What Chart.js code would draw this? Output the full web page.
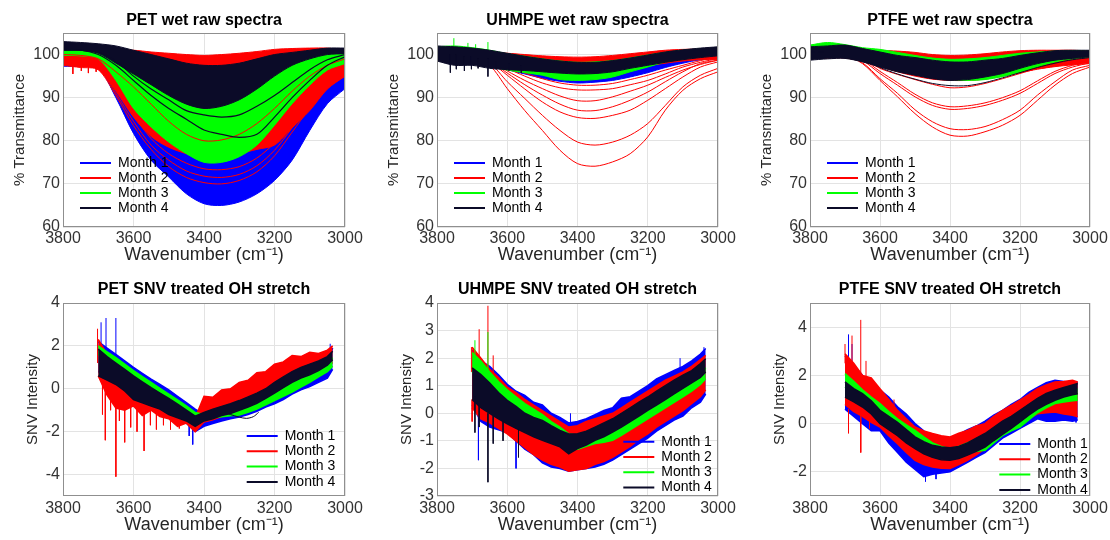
<!DOCTYPE html>
<html>
<head>
<meta charset="utf-8">
<script src="https://cdn.jsdelivr.net/npm/chart.js@4.4.1/dist/chart.umd.min.js"></script>
<style>
  html, body { margin: 0; padding: 0; background: #fff; width: 1110px; height: 540px; overflow: hidden; }
  body { position: relative; }
  canvas { position: absolute; }
</style>
</head>
<body>
<canvas id="c1" width="408" height="270" style="left:0px;top:0px"></canvas>
<canvas id="c2" width="407" height="270" style="left:374px;top:0px"></canvas>
<canvas id="c3" width="406" height="270" style="left:747px;top:0px"></canvas>
<canvas id="c4" width="408" height="270" style="left:0px;top:270px"></canvas>
<canvas id="c5" width="407" height="270" style="left:374px;top:270px"></canvas>
<canvas id="c6" width="406" height="270" style="left:747px;top:270px"></canvas>
<script>
// ---- data ----
const monthNames = ['Month 1', 'Month 2', 'Month 3', 'Month 4'];
const xTicks = [3800, 3600, 3400, 3200, 3000];
const rawTicksY = [60, 70, 80, 90, 100];
const petSnvTicksY = [-4, -2, 0, 2, 4];
const uhmpeSnvTicksY = [-3, -2, -1, 0, 1, 2, 3, 4];
const ptfeSnvTicksY = [-2, 0, 2, 4];

const rawWavenumbers = [3800, 3750, 3700, 3650, 3600, 3550, 3500, 3450, 3400, 3350, 3300, 3250, 3200, 3150, 3100, 3050, 3000];

// PET raw (% transmittance), band edges per month
const petRawM1Lo = [97.3, 97.2, 97.0, 90.0, 81.7, 75.5, 71.6, 67.7, 65.4, 65.0, 65.8, 67.7, 70.8, 75.5, 82.4, 88.6, 92.1];
const petRawM1Hi = [99.0, 99.0, 98.5, 96.0, 92.0, 88.0, 84.5, 81.5, 80.0, 80.0, 80.5, 82.0, 85.0, 88.5, 92.0, 94.5, 96.0];
const petRawM2Lo = [97.5, 97.0, 96.5, 91.5, 85.5, 81.0, 78.5, 77.0, 76.0, 76.0, 77.0, 78.0, 79.0, 83.0, 87.0, 92.0, 95.0];
const petRawM2Hi = [101.5, 101.3, 101.0, 101.0, 101.0, 100.6, 100.3, 100.0, 99.8, 100.0, 100.3, 100.7, 101.2, 101.4, 101.5, 101.5, 101.0];
const petRawM3Lo = [99.8, 99.7, 99.0, 94.0, 87.5, 83.2, 79.7, 77.0, 75.0, 75.0, 76.3, 79.0, 83.6, 88.6, 92.9, 96.4, 97.9];
const petRawM3Hi = [102.0, 101.8, 101.5, 100.5, 99.0, 97.0, 94.5, 92.5, 91.0, 91.0, 92.0, 94.0, 96.5, 98.5, 99.8, 100.3, 100.3];
const petRawM4Lo = [101.2, 101.0, 100.3, 98.0, 95.5, 93.0, 90.5, 88.5, 87.5, 88.0, 89.5, 92.0, 95.0, 97.5, 99.0, 100.0, 100.2];
const petRawM4Hi = [103.0, 102.8, 102.5, 102.0, 101.0, 100.0, 99.0, 98.0, 97.5, 97.5, 98.0, 99.0, 100.0, 100.5, 101.0, 101.5, 101.5];
const petRawRedA = [98.0, 97.8, 97.0, 92.0, 86.0, 80.5, 77.0, 74.8, 73.5, 73.3, 74.0, 76.0, 79.5, 84.5, 89.5, 93.5, 95.8];
const petRawRedB = [98.0, 97.5, 96.8, 91.0, 84.5, 79.0, 75.5, 73.0, 71.8, 71.5, 72.2, 74.2, 77.8, 83.0, 88.5, 92.8, 95.2];
const petRawRedC = [98.0, 97.5, 96.5, 90.5, 83.5, 78.0, 74.0, 71.5, 70.3, 70.0, 70.8, 72.8, 76.5, 82.0, 87.5, 92.2, 95.0];
const petRawRedTop = [100.0, 99.8, 99.0, 96.0, 92.5, 88.5, 84.5, 81.5, 80.0, 80.2, 81.5, 84.0, 87.5, 91.5, 95.0, 97.5, 99.0];
const petRawBlackA = [101.0, 101.0, 100.5, 98.5, 95.0, 92.0, 89.5, 87.0, 86.0, 85.5, 86.0, 88.0, 90.5, 93.5, 96.5, 98.8, 100.0];
const petRawBlackB = [101.0, 101.0, 100.0, 97.5, 94.0, 90.5, 87.5, 85.0, 82.5, 81.5, 80.8, 81.5, 85.5, 90.0, 94.0, 97.5, 99.5];
const petRawRedSpikes = [[3772, 98, 95.5], [3748, 98, 96.2], [3728, 98, 95.7], [3706, 97.5, 96.0]];

// UHMPE raw
const uhmpeRawM1Lo = [99.2, 99.0, 98.5, 97.8, 96.5, 95.5, 94.5, 93.8, 93.4, 93.6, 94.0, 94.8, 95.8, 97.0, 98.0, 98.8, 99.3];
const uhmpeRawM1Hi = [100.8, 100.8, 100.5, 100.2, 99.5, 98.8, 98.0, 97.5, 97.2, 97.3, 97.6, 98.2, 98.9, 99.5, 100.0, 100.3, 100.5];
const uhmpeRawM2Lo = [99.0, 98.8, 98.5, 98.0, 97.5, 97.0, 96.5, 96.0, 95.8, 96.0, 96.3, 96.8, 97.4, 98.0, 98.5, 98.8, 98.8];
const uhmpeRawM2Hi = [100.5, 100.5, 100.5, 100.5, 100.3, 100.0, 99.7, 99.5, 99.4, 99.5, 99.8, 100.2, 100.6, 101.0, 101.2, 101.2, 101.0];
const uhmpeRawM3Lo = [99.0, 98.8, 98.3, 97.3, 96.4, 95.8, 95.2, 94.2, 94.0, 94.2, 94.8, 96.0, 97.1, 98.3, 99.0, 99.6, 100.0];
const uhmpeRawM3Hi = [101.8, 102.0, 101.6, 101.0, 100.2, 99.6, 99.0, 98.5, 98.2, 98.3, 98.6, 99.2, 99.9, 100.5, 101.0, 101.3, 101.5];
const uhmpeRawM4Lo = [98.5, 97.5, 97.5, 96.8, 96.5, 96.3, 96.0, 95.7, 95.5, 95.6, 96.0, 96.8, 97.5, 98.2, 98.8, 99.3, 99.7];
const uhmpeRawM4Hi = [102.0, 101.8, 101.5, 101.0, 100.3, 99.6, 99.0, 98.5, 98.2, 98.2, 98.6, 99.2, 99.9, 100.6, 101.1, 101.5, 101.8];
const uhmpeRawRedA = [99.5, 99.5, 99.3, 97.5, 92.1, 87.0, 82.4, 77.8, 74.7, 74.1, 75.1, 77.0, 80.9, 87.1, 91.7, 94.4, 96.0];
const uhmpeRawRedB = [99.5, 99.5, 99.2, 98.0, 93.7, 89.8, 85.9, 82.4, 79.7, 79.0, 79.7, 81.3, 84.0, 88.2, 92.5, 95.2, 96.8];
const uhmpeRawRedC = [99.6, 99.6, 99.3, 98.3, 95.2, 92.0, 89.0, 86.7, 85.4, 85.2, 85.9, 87.1, 89.4, 92.1, 94.8, 97.1, 98.3];
const uhmpeRawRedD = [99.6, 99.6, 99.4, 98.5, 95.7, 93.0, 90.6, 88.5, 87.1, 87.0, 87.9, 89.4, 91.3, 93.7, 96.0, 97.9, 98.7];
const uhmpeRawRedE = [99.7, 99.7, 99.5, 98.8, 96.2, 94.0, 92.1, 90.4, 89.3, 89.3, 90.2, 91.5, 92.9, 94.7, 96.4, 97.7, 98.7];
const uhmpeRawRedF = [99.8, 99.8, 99.6, 99.0, 96.8, 95.0, 93.4, 92.3, 91.8, 91.8, 92.1, 93.0, 94.0, 95.5, 97.1, 98.2, 99.1];
const uhmpeRawRedG = [99.8, 99.8, 99.7, 99.2, 97.1, 95.7, 94.4, 93.4, 92.9, 92.9, 93.3, 94.2, 95.2, 96.4, 97.5, 98.6, 99.5];
const uhmpeRawBlackSpikes = [[3762, 100, 95.8], [3745, 100, 96.6], [3722, 99.5, 96.2], [3702, 99.5, 96.6], [3683, 99, 96.8], [3655, 99, 94.9], [3632, 98.5, 96.6], [3595, 98, 96.3], [3560, 97.5, 95.7]];
const uhmpeRawGreenSpikes = [[3752, 101.5, 103.8], [3712, 101.5, 102.7], [3690, 101.3, 102.4], [3655, 101, 102.9]];

// PTFE raw
const ptfeRawM1Lo = [99.5, 99.5, 99.4, 98.6, 97.5, 96.4, 95.5, 94.8, 94.5, 94.6, 95.0, 96.0, 97.0, 97.8, 98.5, 99.0, 99.3];
const ptfeRawM1Hi = [100.8, 101.0, 101.0, 100.6, 100.0, 99.3, 98.6, 98.0, 97.8, 97.9, 98.3, 99.0, 99.6, 100.0, 100.4, 100.5, 100.5];
const ptfeRawM2Lo = [99.0, 99.2, 99.2, 98.4, 97.2, 96.0, 95.0, 94.3, 94.0, 94.0, 94.3, 95.0, 95.8, 96.6, 97.2, 97.6, 97.9];
const ptfeRawM2Hi = [100.8, 101.0, 101.2, 101.2, 101.0, 100.8, 100.5, 100.0, 99.8, 99.9, 100.2, 100.6, 100.9, 101.0, 101.0, 101.0, 100.8];
const ptfeRawM3Lo = [100.3, 100.5, 100.5, 99.8, 98.5, 97.2, 96.0, 95.0, 94.2, 94.0, 94.2, 94.9, 96.0, 97.2, 98.3, 99.0, 99.5];
const ptfeRawM3Hi = [102.2, 102.8, 102.3, 101.6, 101.2, 100.5, 99.8, 99.2, 98.9, 99.0, 99.3, 99.8, 100.3, 100.6, 100.8, 100.9, 100.8];
const ptfeRawM4Lo = [98.7, 99.0, 99.1, 98.3, 97.1, 96.0, 95.2, 94.4, 94.0, 94.2, 94.8, 95.6, 96.8, 97.9, 98.7, 99.1, 99.5];
const ptfeRawM4Hi = [101.8, 102.0, 102.2, 101.4, 100.6, 99.8, 99.3, 98.7, 98.3, 98.3, 98.7, 99.1, 99.8, 100.4, 100.9, 101.0, 101.0];
const ptfeRawRedA = [100.0, 100.0, 99.8, 97.9, 94.0, 90.2, 86.3, 83.2, 81.3, 81.1, 82.1, 83.6, 85.9, 89.4, 92.9, 95.6, 97.1];
const ptfeRawRedB = [100.0, 100.0, 99.8, 98.1, 94.4, 91.0, 87.2, 84.4, 82.8, 82.6, 83.3, 84.9, 87.1, 90.6, 93.7, 96.4, 97.5];
const ptfeRawRedC = [100.0, 100.0, 99.9, 98.6, 95.6, 92.9, 90.2, 88.2, 87.3, 87.5, 88.2, 89.4, 91.0, 93.3, 95.6, 97.1, 98.1];
const ptfeRawRedD = [100.1, 100.1, 100.0, 98.9, 96.1, 93.5, 90.8, 88.8, 87.9, 88.1, 88.8, 90.0, 91.6, 93.9, 96.1, 97.5, 98.4];
const ptfeRawRedE = [100.0, 100.0, 100.0, 99.0, 96.8, 95.4, 94.2, 93.1, 92.3, 92.5, 93.3, 94.4, 95.6, 96.8, 97.9, 98.6, 99.1];
const ptfeRawBlackA = [100.5, 100.5, 100.2, 99.0, 97.0, 95.5, 94.3, 93.3, 92.8, 92.8, 93.5, 94.6, 95.8, 97.0, 98.0, 98.8, 99.3];

// SNV treated OH stretch
const snvWavenumbers = [3700, 3675, 3650, 3625, 3600, 3575, 3550, 3525, 3500, 3475, 3450, 3425, 3400, 3375, 3350, 3325, 3300, 3275, 3250, 3225, 3200, 3175, 3150, 3125, 3100, 3075, 3050, 3035];

const petSnvM1Lo = [0.8, 0.6, 0.4, 0.1, -0.2, -0.45, -0.7, -0.95, -1.2, -1.45, -1.6, -2.0, -1.75, -1.62, -1.5, -1.4, -1.32, -1.2, -1.05, -0.85, -0.7, -0.5, -0.25, -0.05, 0.1, 0.3, 0.5, 0.9];
const petSnvM1Hi = [2.2, 1.9, 1.6, 1.3, 1.0, 0.72, 0.45, 0.2, -0.05, -0.35, -0.65, -0.95, -1.2, -1.25, -1.15, -1.05, -0.95, -0.85, -0.7, -0.5, -0.3, -0.05, 0.2, 0.42, 0.65, 0.9, 1.2, 1.9];
const petSnvM2Lo = [0.6, -0.3, -0.9, -1.0, -0.8, -1.25, -1.0, -1.3, -1.4, -1.75, -1.6, -2.0, -1.55, -1.45, -1.3, -1.15, -1.0, -0.8, -0.6, -0.35, -0.1, 0.15, 0.4, 0.6, 0.8, 1.0, 1.15, 1.2];
const petSnvM2Hi = [2.3, 1.6, 1.2, 0.75, 0.35, 0.05, -0.2, -0.45, -0.7, -0.95, -1.2, -1.35, -0.35, -0.4, -0.05, 0.0, 0.3, 0.4, 0.75, 0.8, 1.15, 1.25, 1.55, 1.5, 1.7, 1.65, 1.8, 2.0];
const petSnvM3Lo = [1.6, 1.33, 1.05, 0.78, 0.45, 0.18, -0.08, -0.35, -0.6, -0.88, -1.15, -1.45, -1.42, -1.35, -1.3, -1.26, -1.22, -1.1, -0.95, -0.75, -0.55, -0.35, -0.15, 0.08, 0.3, 0.55, 0.8, 1.05];
const petSnvM3Hi = [2.0, 1.72, 1.45, 1.15, 0.85, 0.57, 0.3, 0.02, -0.25, -0.52, -0.8, -1.1, -1.2, -1.1, -0.98, -0.9, -0.8, -0.65, -0.5, -0.3, -0.1, 0.1, 0.3, 0.52, 0.75, 0.98, 1.2, 1.45];
const petSnvM4Lo = [0.6, 0.4, 0.2, -0.1, -0.5, -0.65, -0.8, -0.95, -1.2, -1.35, -1.5, -1.75, -1.5, -1.4, -1.25, -1.15, -1.0, -0.85, -0.68, -0.45, -0.2, 0.05, 0.3, 0.5, 0.65, 0.85, 1.1, 1.35];
const petSnvM4Hi = [1.85, 1.5, 1.2, 0.9, 0.6, 0.32, 0.05, -0.2, -0.45, -0.72, -1.0, -1.28, -1.1, -0.95, -0.82, -0.7, -0.55, -0.38, -0.2, 0.0, 0.3, 0.55, 0.8, 1.0, 1.15, 1.3, 1.5, 1.75];
const petSnvRedSpikes = [[3702, 1.2, 2.8], [3688, 1.0, -1.2], [3680, 0.8, -2.4], [3665, 0.2, -1.0], [3650, 0.3, -4.1], [3640, 0.0, -1.5], [3625, -0.1, -2.5], [3608, -0.3, -1.8], [3590, -0.4, -2.0], [3570, -0.5, -2.9], [3552, -0.7, -1.7], [3535, -0.8, -1.9], [3515, -0.9, -1.7], [3495, -1.1, -1.9], [3470, -1.3, -1.85]];
const petSnvBlueSpikes = [[3692, 1.8, 3.1], [3678, 1.6, 3.3], [3650, 1.4, 3.3], [3442, -1.4, -2.2], [3432, -1.5, -2.6], [3042, 1.5, 2.1]];
const petSnvBlackLoopX = [3350, 3325, 3300, 3280, 3260, 3245];
const petSnvBlackLoopY = [-1.05, -1.2, -1.32, -1.38, -1.3, -1.1];

const uhmpeSnvM1Lo = [0.3, -0.3, -0.5, -0.6, -0.7, -1.0, -1.3, -1.5, -1.8, -1.95, -2.0, -2.1, -2.05, -2.0, -1.95, -1.85, -1.7, -1.5, -1.3, -1.1, -0.9, -0.65, -0.45, -0.25, -0.1, 0.2, 0.4, 0.7];
const uhmpeSnvM1Hi = [2.3, 1.9, 1.7, 1.4, 1.05, 0.8, 0.65, 0.4, 0.3, 0.0, -0.15, -0.35, -0.3, -0.2, -0.05, 0.1, 0.2, 0.55, 0.6, 0.8, 1.0, 1.25, 1.4, 1.55, 1.7, 1.9, 2.15, 2.35];
const uhmpeSnvM2Lo = [0.2, -0.2, -0.35, -0.55, -0.75, -1.0, -1.25, -1.5, -1.7, -1.85, -1.95, -2.1, -2.05, -2.0, -1.85, -1.75, -1.6, -1.4, -1.2, -0.95, -0.75, -0.5, -0.3, -0.1, 0.1, 0.35, 0.6, 0.85];
const uhmpeSnvM2Hi = [2.4, 2.0, 1.6, 1.3, 0.95, 0.75, 0.5, 0.3, 0.1, -0.1, -0.3, -0.5, -0.45, -0.3, -0.2, -0.1, 0.0, 0.2, 0.4, 0.6, 0.8, 1.0, 1.2, 1.35, 1.5, 1.7, 1.95, 2.1];
const uhmpeSnvM3Lo = [1.5, 1.2, 0.9, 0.55, 0.25, 0.0, -0.2, -0.35, -0.55, -0.8, -1.0, -1.3, -1.3, -1.2, -1.1, -1.05, -0.98, -0.8, -0.6, -0.4, -0.2, 0.0, 0.2, 0.4, 0.6, 0.8, 1.05, 1.25];
const uhmpeSnvM3Hi = [2.2, 1.9, 1.5, 1.15, 0.85, 0.6, 0.35, 0.15, -0.05, -0.3, -0.5, -0.75, -0.8, -0.75, -0.7, -0.62, -0.55, -0.35, -0.15, 0.05, 0.25, 0.45, 0.65, 0.82, 1.0, 1.2, 1.45, 1.65];
const uhmpeSnvM4Lo = [0.5, 0.2, 0.0, -0.2, -0.38, -0.55, -0.7, -0.85, -0.98, -1.1, -1.22, -1.47, -1.28, -1.15, -0.98, -0.85, -0.68, -0.5, -0.3, -0.1, 0.11, 0.3, 0.5, 0.7, 0.9, 1.1, 1.3, 1.5];
const uhmpeSnvM4Hi = [1.65, 1.4, 1.1, 0.75, 0.47, 0.25, 0.0, -0.15, -0.26, -0.45, -0.62, -0.75, -0.74, -0.65, -0.5, -0.35, -0.2, 0.0, 0.2, 0.4, 0.59, 0.8, 1.0, 1.2, 1.38, 1.55, 1.8, 1.98];
const uhmpeSnvBlueSpikes = [[3682, 0.0, -1.7], [3575, -0.9, -2.0], [3420, -0.5, 0.0], [3108, 1.6, 2.0], [3040, 2.0, 2.4]];
const uhmpeSnvRedSpikes = [[3702, 1.5, 2.4], [3680, 1.5, 3.05], [3655, 1.2, 3.9], [3640, 1.0, 2.1], [3700, 0.5, -0.3]];
const uhmpeSnvGreenSpikes = [[3692, 1.6, 2.65], [3655, 1.2, 2.95]];
const uhmpeSnvBlackSpikes = [[3692, 0.6, -0.7], [3680, 0.3, -0.5], [3655, 0.0, -2.5], [3640, -0.1, -1.1], [3612, -0.3, -1.0], [3568, -0.6, -1.6]];

const ptfeSnvM1Lo = [0.6, 0.3, 0.0, -0.3, -0.3, -0.8, -1.2, -1.6, -1.9, -2.2, -2.1, -2.05, -2.0, -1.8, -1.6, -1.4, -1.2, -0.9, -0.6, -0.4, -0.2, 0.0, 0.2, 0.1, 0.1, 0.15, 0.1, 0.15];
const ptfeSnvM1Hi = [2.8, 2.4, 2.0, 1.7, 1.4, 1.1, 0.7, 0.4, 0.0, -0.3, -0.5, -0.6, -0.6, -0.45, -0.25, -0.1, 0.1, 0.35, 0.55, 0.8, 1.0, 1.3, 1.5, 1.7, 1.8, 1.75, 1.7, 1.7];
const ptfeSnvM2Lo = [0.8, 0.5, 0.3, 0.05, -0.14, -0.5, -0.83, -1.2, -1.52, -1.7, -1.8, -1.85, -1.86, -1.7, -1.52, -1.3, -1.04, -0.7, -0.41, -0.2, 0.0, 0.2, 0.41, 0.45, 0.48, 0.4, 0.35, 0.28];
const ptfeSnvM2Hi = [2.9, 2.5, 2.0, 1.9, 1.45, 1.0, 0.55, 0.2, -0.14, -0.3, -0.41, -0.5, -0.55, -0.4, -0.28, -0.1, 0.0, 0.3, 0.55, 0.75, 0.97, 1.2, 1.45, 1.6, 1.73, 1.75, 1.8, 1.73];
const ptfeSnvM3Lo = [1.52, 1.2, 0.9, 0.6, 0.35, 0.05, -0.2, -0.45, -0.69, -0.95, -1.15, -1.3, -1.38, -1.3, -1.2, -1.15, -1.1, -0.8, -0.5, -0.3, -0.14, 0.15, 0.45, 0.65, 0.83, 0.9, 0.95, 0.97];
const ptfeSnvM3Hi = [2.07, 1.75, 1.4, 1.1, 0.83, 0.5, 0.2, -0.05, -0.28, -0.55, -0.8, -0.95, -1.04, -0.95, -0.8, -0.65, -0.5, -0.3, -0.05, 0.2, 0.4, 0.65, 0.9, 1.1, 1.25, 1.35, 1.4, 1.42];
const ptfeSnvM4Lo = [1.1, 0.9, 0.69, 0.4, 0.0, -0.25, -0.5, -0.8, -1.04, -1.25, -1.4, -1.5, -1.52, -1.45, -1.3, -1.15, -0.97, -0.7, -0.45, -0.2, 0.07, 0.35, 0.6, 0.8, 0.97, 1.1, 1.2, 1.24];
const ptfeSnvM4Hi = [1.73, 1.45, 1.24, 0.95, 0.55, 0.3, 0.05, -0.25, -0.55, -0.75, -0.9, -0.97, -1.0, -0.95, -0.8, -0.6, -0.41, -0.15, 0.1, 0.3, 0.55, 0.8, 1.05, 1.25, 1.38, 1.5, 1.6, 1.66];
const ptfeSnvBlueSpikes = [[3690, 2.5, 3.7], [3680, 2.0, 3.3], [3470, -1.9, -2.4], [3440, -1.8, -2.3], [3040, 0.5, 0.05]];
const ptfeSnvRedSpikes = [[3700, 2.5, 3.3], [3680, 2.3, 3.65], [3655, 2.0, 4.3], [3640, 1.8, 2.6], [3690, 0.6, -0.4], [3655, 0.3, -1.2], [3630, 0.2, -0.2], [3560, 0.3, 1.0]];

// ---- styling ----
const monthColors = ['#0000ff', '#ff0000', '#00ff00', '#0b0b28'];
const [BLUE, RED, GREEN, BLACK] = monthColors;

Chart.defaults.font.family = "'Liberation Sans', Arial, Helvetica, sans-serif";
Chart.defaults.animation = false;

function pts(xs, ys) {
  return xs.map((x, i) => ({ x: x, y: ys[i] }));
}

function band(xs, lo, hi, color, tension, width) {
  return [
    { data: pts(xs, lo), borderColor: color, borderWidth: width, fill: false, tension: tension },
    { data: pts(xs, hi), borderColor: color, borderWidth: width, fill: '-1', backgroundColor: color, tension: tension }
  ];
}

function curve(xs, ys, color, width) {
  return { data: pts(xs, ys), borderColor: color, borderWidth: width, fill: false, tension: 0.3 };
}

function spikes(list, color) {
  const data = [];
  list.forEach(s => {
    data.push({ x: s[0], y: s[1] }, { x: s[0], y: s[2] }, { x: s[0], y: null });
  });
  return { data: data, borderColor: color, borderWidth: 1, fill: false, tension: 0 };
}

// legend goes inside the axes, drawn on top of the data
const legendSpot = {
  id: 'legendSpot',
  beforeLayout(chart) {
    const lg = chart.legend;
    if (lg && !lg._onTop) {
      lg._layers = () => [{ z: 1, draw: (area) => lg.draw(area) }];
      lg._onTop = true;
    }
  },
  afterLayout(chart, args, opts) {
    const lg = chart.legend, ca = chart.chartArea;
    lg.left = ca.left + opts.dx;
    lg.top = ca.top + opts.dy;
    lg.right = chart.width;
    lg.bottom = chart.height;
  }
};

// MATLAB style box round the axes
const axesBox = {
  id: 'axesBox',
  afterDatasetsDraw(chart) {
    const { ctx, chartArea: a } = chart;
    ctx.save();
    ctx.strokeStyle = '#8f8f8f';
    ctx.lineWidth = 1;
    ctx.strokeRect(Math.round(a.left) + 0.5, Math.round(a.top) + 0.5, Math.round(a.right - a.left) - 1, Math.round(a.bottom - a.top) - 1);
    ctx.restore();
  }
};

function makePanel(id, p) {
  const datasets = p.sets.map((d, i) => Object.assign({ pointRadius: 0, spanGaps: false }, d, { order: -i }));
  return new Chart(document.getElementById(id), {
    type: 'line',
    data: { datasets: datasets },
    options: {
      responsive: false,
      animation: false,
      events: [],
      layout: { padding: 0 },
      scales: {
        x: {
          type: 'linear', reverse: true, min: 3000, max: 3800,
          afterBuildTicks: s => { s.ticks = xTicks.map(v => ({ value: v })); },
          afterFit: s => { s.height = p.xAxisHeight; },
          ticks: { font: { size: 16 }, color: '#333', padding: p.xTickPad, maxRotation: 0, callback: v => String(v) },
          grid: { color: '#e3e3e3', drawTicks: false },
          border: { display: false },
          title: { display: true, text: 'Wavenumber (cm\u207B\u00B9)', font: { size: 18 }, color: '#262626', padding: { top: 0, bottom: 4 } }
        },
        y: {
          type: 'linear', min: p.yMin, max: p.yMax,
          afterBuildTicks: s => { s.ticks = p.yTicks.map(v => ({ value: v })); },
          afterFit: s => { s.width = 63; },
          ticks: { font: { size: 16 }, color: '#333', padding: 3, callback: v => String(v) },
          grid: { color: '#e3e3e3', drawTicks: false },
          border: { display: false },
          title: { display: true, text: p.yTitle, font: { size: 15 }, color: '#262626', padding: { top: p.yTitlePad, bottom: 0 } }
        },
        // empty right-hand margin so the title centres over the axes
        yPad: {
          type: 'linear', position: 'right',
          afterFit: s => { s.width = 63; },
          ticks: { display: false },
          grid: { display: false },
          border: { display: false }
        }
      },
      plugins: {
        title: { display: true, text: p.title, font: { size: 16, weight: 'bold' }, color: '#000', padding: { top: p.titleTop, bottom: p.titleBottom } },
        legend: {
          position: 'chartArea', align: 'start',
          labels: {
            boxWidth: 31, boxHeight: 2, padding: p.legendGap, font: { size: 14 }, color: '#262626',
            generateLabels: () => monthNames.map((t, i) => ({ text: t, fillStyle: monthColors[i], strokeStyle: monthColors[i], lineWidth: 0, hidden: false, datasetIndex: i }))
          }
        },
        tooltip: { enabled: false },
        legendSpot: { dx: p.legendDx, dy: p.legendDy }
      }
    },
    plugins: [legendSpot, axesBox]
  });
}

const rawRow = { yMin: 60, yMax: 105, yTicks: rawTicksY, yTitle: '% Transmittance', yTitlePad: 11, titleTop: 11.4, titleBottom: 2.4, xAxisHeight: 43, xTickPad: 2, legendDx: 16, legendDy: 122, legendGap: 1 };
const snvRow = { yTitle: 'SNV Intensity', yTitlePad: 24, titleTop: 10.4, titleBottom: 3.4, xAxisHeight: 44, xTickPad: 3, legendGap: 1.3 };
const W = rawWavenumbers, S = snvWavenumbers;

makePanel('c1', Object.assign({}, rawRow, {
  title: 'PET wet raw spectra',
  sets: [
    ...band(W, petRawM1Lo, petRawM1Hi, BLUE, 0.3, 1),
    ...band(W, petRawM2Lo, petRawM2Hi, RED, 0.3, 1),
    curve(W, petRawRedA, RED, 1), curve(W, petRawRedB, RED, 1), curve(W, petRawRedC, RED, 1),
    spikes(petRawRedSpikes, RED),
    ...band(W, petRawM3Lo, petRawM3Hi, GREEN, 0.3, 1),
    curve(W, petRawRedTop, RED, 1),
    ...band(W, petRawM4Lo, petRawM4Hi, BLACK, 0.3, 1),
    curve(W, petRawBlackA, BLACK, 1.2), curve(W, petRawBlackB, BLACK, 1.2)
  ]
}));

makePanel('c2', Object.assign({}, rawRow, {
  title: 'UHMPE wet raw spectra',
  sets: [
    ...band(W, uhmpeRawM1Lo, uhmpeRawM1Hi, BLUE, 0.3, 1),
    ...band(W, uhmpeRawM2Lo, uhmpeRawM2Hi, RED, 0.3, 1),
    curve(W, uhmpeRawRedA, RED, 1), curve(W, uhmpeRawRedB, RED, 1), curve(W, uhmpeRawRedC, RED, 1),
    curve(W, uhmpeRawRedD, RED, 1), curve(W, uhmpeRawRedE, RED, 1), curve(W, uhmpeRawRedF, RED, 1),
    curve(W, uhmpeRawRedG, RED, 1),
    ...band(W, uhmpeRawM3Lo, uhmpeRawM3Hi, GREEN, 0.3, 1),
    spikes(uhmpeRawGreenSpikes, GREEN),
    ...band(W, uhmpeRawM4Lo, uhmpeRawM4Hi, BLACK, 0.3, 1),
    spikes(uhmpeRawBlackSpikes, BLACK)
  ]
}));

makePanel('c3', Object.assign({}, rawRow, {
  title: 'PTFE wet raw spectra',
  sets: [
    ...band(W, ptfeRawM1Lo, ptfeRawM1Hi, BLUE, 0.3, 1),
    ...band(W, ptfeRawM2Lo, ptfeRawM2Hi, RED, 0.3, 1),
    curve(W, ptfeRawRedA, RED, 1), curve(W, ptfeRawRedB, RED, 1), curve(W, ptfeRawRedC, RED, 1),
    curve(W, ptfeRawRedD, RED, 1), curve(W, ptfeRawRedE, RED, 1),
    ...band(W, ptfeRawM3Lo, ptfeRawM3Hi, GREEN, 0.3, 1),
    ...band(W, ptfeRawM4Lo, ptfeRawM4Hi, BLACK, 0.3, 1),
    curve(W, ptfeRawBlackA, BLACK, 1)
  ]
}));

makePanel('c4', Object.assign({}, snvRow, {
  title: 'PET SNV treated OH stretch', yMin: -5, yMax: 4, yTicks: petSnvTicksY,
  legendDx: 182.4, legendDy: 124.7,
  sets: [
    ...band(S, petSnvM1Lo, petSnvM1Hi, BLUE, 0, 1.5),
    spikes(petSnvBlueSpikes, BLUE),
    ...band(S, petSnvM2Lo, petSnvM2Hi, RED, 0, 1.5),
    spikes(petSnvRedSpikes, RED),
    ...band(S, petSnvM3Lo, petSnvM3Hi, GREEN, 0, 1.5),
    ...band(S, petSnvM4Lo, petSnvM4Hi, BLACK, 0, 1.5),
    curve(petSnvBlackLoopX, petSnvBlackLoopY, BLACK, 1)
  ]
}));

makePanel('c5', Object.assign({}, snvRow, {
  title: 'UHMPE SNV treated OH stretch', yMin: -3, yMax: 4, yTicks: uhmpeSnvTicksY,
  legendDx: 185, legendDy: 130.4,
  sets: [
    ...band(S, uhmpeSnvM1Lo, uhmpeSnvM1Hi, BLUE, 0, 1.5),
    spikes(uhmpeSnvBlueSpikes, BLUE),
    ...band(S, uhmpeSnvM2Lo, uhmpeSnvM2Hi, RED, 0, 1.5),
    spikes(uhmpeSnvRedSpikes, RED),
    ...band(S, uhmpeSnvM3Lo, uhmpeSnvM3Hi, GREEN, 0, 1.5),
    spikes(uhmpeSnvGreenSpikes, GREEN),
    ...band(S, uhmpeSnvM4Lo, uhmpeSnvM4Hi, BLACK, 0, 1.5),
    spikes(uhmpeSnvBlackSpikes, BLACK)
  ]
}));

makePanel('c6', Object.assign({}, snvRow, {
  title: 'PTFE SNV treated OH stretch', yMin: -3, yMax: 5, yTicks: ptfeSnvTicksY,
  legendDx: 188, legendDy: 132.7,
  sets: [
    ...band(S, ptfeSnvM1Lo, ptfeSnvM1Hi, BLUE, 0, 1.5),
    spikes(ptfeSnvBlueSpikes, BLUE),
    ...band(S, ptfeSnvM2Lo, ptfeSnvM2Hi, RED, 0, 1.5),
    spikes(ptfeSnvRedSpikes, RED),
    ...band(S, ptfeSnvM3Lo, ptfeSnvM3Hi, GREEN, 0, 1.5),
    ...band(S, ptfeSnvM4Lo, ptfeSnvM4Hi, BLACK, 0, 1.5)
  ]
}));
</script>
</body>
</html>
